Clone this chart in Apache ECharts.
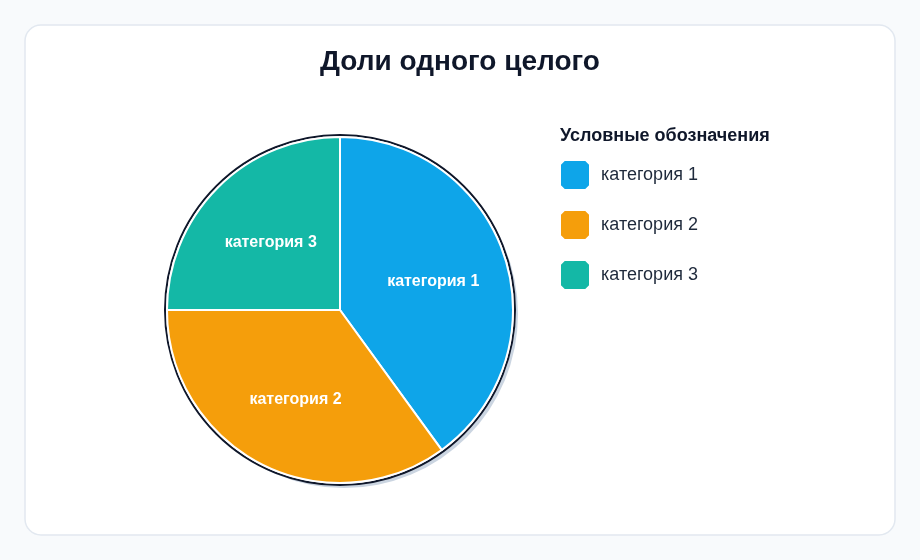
<!DOCTYPE html>
<html>
<head>
<meta charset="utf-8">
<script src="https://cdn.jsdelivr.net/npm/echarts@6/dist/echarts.min.js"></script>
<style>
  html, body { margin: 0; padding: 0; background: #f8fafc; }
  #chart { width: 920px; height: 560px; }
</style>
</head>
<body>
<div id="chart"></div>
<script>
const categories = ['категория 1', 'категория 2', 'категория 3'];
const values = [40, 35, 25];
const colors = ['#0ea5e9', '#f59e0b', '#14b8a6'];
const chartTitle = 'Доли одного целого';
const legendTitle = 'Условные обозначения';

const FONT = 'Liberation Sans, Arial, sans-serif';
const total = values.reduce((a, b) => a + b, 0);
const mainData = categories.map((c, i) => ({ name: c, value: values[i], itemStyle: { color: colors[i] } }));
const iconPath = 'path://M4,0 L24,0 L28,4 L28,24 L24,28 L4,28 L0,24 L0,4 Z';

const chart = echarts.init(document.getElementById('chart'), null, { renderer: 'canvas' });
chart.setOption({
  animation: false,
  backgroundColor: '#f8fafc',
  graphic: [{
    type: 'rect', z: -10, silent: true,
    shape: { x: 25, y: 25, width: 870, height: 510, r: 16 },
    style: { fill: '#ffffff', stroke: '#e2e8f0', lineWidth: 1.5 }
  }],
  title: [{
    text: chartTitle, left: 'center', top: 48, padding: 0,
    textStyle: { fontFamily: FONT, fontSize: 28, fontWeight: 'bold', color: '#0f172a' }
  }, {
    text: legendTitle, left: 560, top: 127, padding: 0,
    textStyle: { fontFamily: FONT, fontSize: 18, fontWeight: 'bold', color: '#0f172a' }
  }],
  legend: {
    data: categories, orient: 'vertical', left: 559, top: 159, padding: 0,
    icon: iconPath, itemWidth: 30, itemHeight: 30, itemGap: 18,
    selectedMode: false,
    textStyle: { fontFamily: FONT, fontSize: 18, color: '#1e293b', padding: [0, 0, 0, 6] }
  },
  series: [{
    type: 'pie', silent: true, z: 1, center: [344, 314], radius: 174,
    label: { show: false }, labelLine: { show: false },
    itemStyle: { color: '#cbd5e1' },
    data: [{ name: '_shadow', value: total }]
  }, {
    type: 'pie', silent: true, z: 2, center: [340, 310], radius: 175,
    label: { show: false }, labelLine: { show: false },
    itemStyle: { color: '#ffffff', borderColor: '#0f172a', borderWidth: 2 },
    data: [{ name: '_ring', value: total }]
  }, {
    type: 'pie', z: 3, center: [340, 310], radius: 173, startAngle: 90, clockwise: true,
    label: { show: false }, labelLine: { show: false },
    emphasis: { disabled: true },
    itemStyle: { borderColor: '#ffffff', borderWidth: 2 },
    data: mainData
  }, {
    type: 'pie', silent: true, z: 4, center: [340, 312], radius: [17, 173], startAngle: 90, clockwise: true,
    labelLine: { show: false },
    itemStyle: { color: 'rgba(0,0,0,0)' },
    label: { show: true, position: 'inside', formatter: '{b}',
      fontFamily: FONT, fontSize: 16, fontWeight: 'bold', color: '#ffffff' },
    data: categories.map((c, i) => ({ name: c, value: values[i] }))
  }]
});
</script>
</body>
</html>
